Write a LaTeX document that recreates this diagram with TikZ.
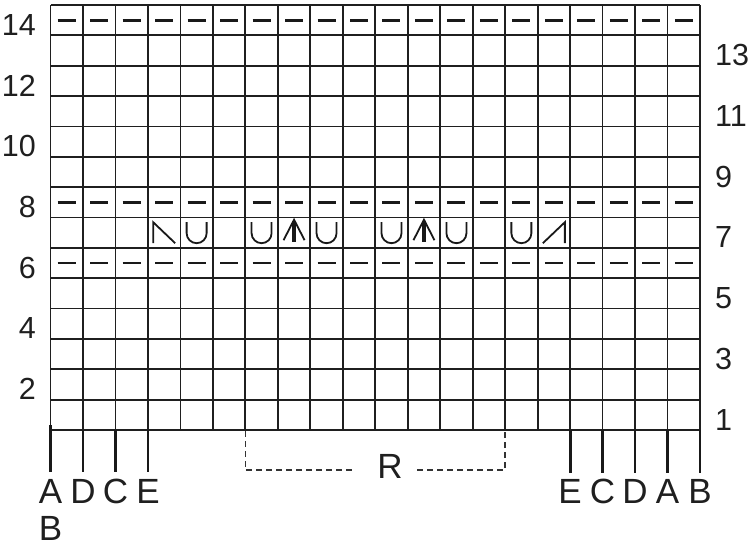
\documentclass[tikz,border=0pt]{standalone}
\usepackage{fontspec}
\setmainfont{Liberation Sans}
\begin{document}
\begin{tikzpicture}[x=1pt,y=-1pt,
  gridline/.style={line width=1.8pt, draw=black!88},
  tickline/.style={line width=2.8pt, draw=black!90},
  dashmark/.style={line width=2.8pt, draw=black!90},
  sym/.style={line width=1.8pt, draw=black!90, line join=miter},
  rbrack/.style={line width=1.6pt, draw=black!80, dash pattern=on 6pt off 4pt},
  num/.style={font=\fontsize{30.5}{30.5}\selectfont, inner sep=0pt, text=black!88},
  letter/.style={font=\fontsize{35}{35}\selectfont, inner sep=0pt, text=black!88},
  ustitch/.pic={\draw[sym] (-10,-10.5) -- (-10,0.5) .. controls (-10,6) and (-5.5,10.5) .. (0,10.5) .. controls (5.5,10.5) and (10,6) .. (10,0.5) -- (10,-10.5);},
  upstitch/.pic={\draw[sym] (-10.5,7.5) -- (0,-13) -- (10.5,7.5); \draw[line width=3.6pt, draw=black!90] (0,-12) -- (0,9.5);},
  leftdec/.pic={\draw[sym] (-11,10.5) -- (-11,-10.5) -- (11,10.5);},
  rightdec/.pic={\draw[sym] (-11,10.5) -- (11,-10.5) -- (11,10.5);}
]
\useasboundingbox (0,0) rectangle (749,546);
\def\cw{32.475}
\def\rh{30.357}
% grid
\foreach \c in {0,...,20} \draw[gridline] ({50.5+\c*\cw},5) -- ({50.5+\c*\cw},430);
\foreach \r in {0,...,14} \draw[gridline] (50.5,{5+\r*\rh}) -- (700,{5+\r*\rh});
% purl dashes in rows 14, 8, 6
\foreach \r in {0,6,8} \foreach \c in {0,...,19}
  \draw[dashmark] ({50.5+(\c+0.5)*\cw-9},{5+(\r+0.5)*\rh}) -- ++(18,0);
% row 7 symbols
\def\ry{232.7}
\pic at ({50.5+3.5*\cw},\ry) {leftdec};
\foreach \c in {4,6,8,10,12,14} \pic at ({50.5+(\c+0.5)*\cw},\ry) {ustitch};
\foreach \c in {7,11} \pic at ({50.5+(\c+0.5)*\cw},\ry) {upstitch};
\pic at ({50.5+15.5*\cw},\ry) {rightdec};
% row numbers
\foreach \k in {2,4,...,14}
  \node[num, anchor=base east] (l\k) at (36,{430-(\k-1)*\rh}) {\k};
\foreach \k in {1,3,...,13}
  \node[num, anchor=base west] (r\k) at (715,{430-(\k-1)*\rh}) {\k};
% ticks and letters
\foreach \c/\t [count=\i] in {0/A,1/D,2/C,3/E} {
  \coordinate (lt\i) at ({50.5+\c*\cw},{\i==1 ? 425 : 430});
  \node[letter, anchor=base] (ll\i) at ({50.5+\c*\cw},503) {\t};
  \draw[tickline] (lt\i) -- ({50.5+\c*\cw},472);
}
\node[letter, anchor=base] (lB) at (50.5,540) {B};
\foreach \c/\t [count=\i] in {16/E,17/C,18/D,19/A,20/B} {
  \coordinate (rt\i) at ({50.5+\c*\cw},430);
  \node[letter, anchor=base] (rl\i) at ({50.5+\c*\cw},503) {\t};
  \draw[tickline] (rt\i) -- ({50.5+\c*\cw},473);
}
% repeat bracket
\node[letter, font=\fontsize{35}{35}\selectfont, anchor=base] (R) at (390,478) {R};
\coordinate (ra) at ({50.5+6*\cw},431);
\coordinate (rb) at ({50.5+6*\cw},470);
\coordinate (rc) at (356,470);
\coordinate (rd) at (417,470);
\coordinate (re) at ({50.5+14*\cw},470);
\coordinate (rf) at ({50.5+14*\cw},431);
\draw[rbrack] (ra) -- (rb) -- (rc);
\draw[rbrack] (rd) -- (re) -- (rf);
\end{tikzpicture}
\end{document}
